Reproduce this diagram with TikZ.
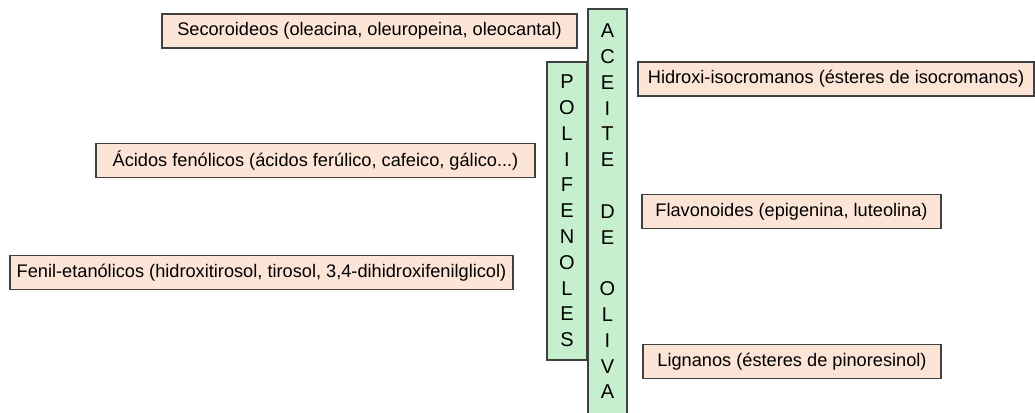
\documentclass[tikz,border=0pt]{standalone}
\usepackage{fontspec}
\setmainfont{Liberation Sans}
\usetikzlibrary{positioning}

\definecolor{peach}{RGB}{252,228,214}
\definecolor{mint}{RGB}{198,239,206}
\definecolor{edge}{RGB}{64,64,64}

\begin{document}
\begin{tikzpicture}[x=1pt, y=-1pt,
	nosep/.style={inner sep=0pt, outer sep=0pt},
	grp/.style={draw=edge, line width=1.3pt, fill=peach, nosep, font=\fontsize{18.2}{22}\selectfont, minimum height=34pt},
	col/.style={draw=edge, line width=1.3pt, fill=mint, nosep, align=center, font=\fontsize{20}{25.8}\selectfont}
]

% Page size (pixels of the reference, y pointing down)
\useasboundingbox (0,0) rectangle (1035,412);

% Central columns
\node[col, minimum width=39pt, minimum height=405pt] (aceite) at (607.5,211.5)
	{A\\C\\E\\I\\T\\E\\~\\D\\E\\~\\O\\L\\I\\V\\A};
\node[col, minimum width=40pt, minimum height=298pt] (polif) at (567,211)
	{P\\O\\L\\I\\F\\E\\N\\O\\L\\E\\S};

% Groups on the left
\node[grp, minimum width=415pt] (seco) at (369.5,31) {Secoroideos (oleacina, oleuropeina, oleocantal)};
\node[grp, minimum width=439pt] (acid) at (315.5,160.5) {Ácidos fenólicos (ácidos ferúlico, cafeico, gálico...)};
\node[grp, minimum width=503pt] (fenil) at (261.5,272.5) {Fenil-etanólicos (hidroxitirosol, tirosol, 3,4-dihidroxifenilglicol)};

% Groups on the right
\node[grp, minimum width=396pt] (hidrox) at (836,79) {Hidroxi-isocromanos (ésteres de isocromanos)};
\node[grp, minimum width=299pt] (flavo) at (791.5,211.5) {Flavonoides (epigenina, luteolina)};
\node[grp, minimum width=298pt] (lign) at (792,361.5) {Lignanos (ésteres de pinoresinol)};

\end{tikzpicture}
\end{document}
